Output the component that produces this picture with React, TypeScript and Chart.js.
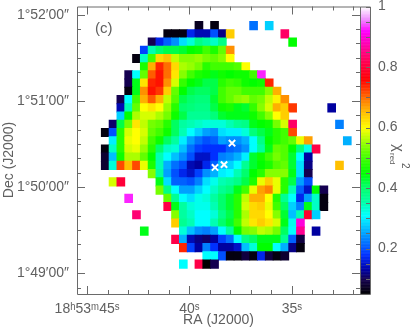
import React, { useEffect, useRef } from "react";
import { Chart, registerables } from "chart.js";

Chart.register(...registerables);

type Segs = Record<number, number[]>;

// chi^2_red per map cell: { first column: values running eastward to westward }
const row00: Segs = { 12: [.07], 14: [.06], 19: [.22], 21: [.28] };
const row01: Segs = { 8: [.06, .06, .06, .17, .14, .14, .2, .12, .64], 23: [.83] };
const row02: Segs = { 6: [.1, .17, .21, .24, .29, .33, .38, .36, .34, .38], 24: [.45] };
const row03: Segs = { 5: [.19, .35, .4, .42, .42, .43, .45, .46, .5, .47, .52, .68] };
const row04: Segs = { 4: [.06, .34, .5, .63, .65, .57, .54, .54, .55, .53, .52, .54, .6] };
const row05: Segs = { 5: [.47, .66, .74, .7, .63, .56, .55, .53, .48, .5, .5, .5, .51, .6] };
const row06: Segs = { 3: [.1, .31, .52, .71, .75, .7, .62, .54, .5, .47, .46, .44, .46, .45, .46, .46, .5, .93] };
const row07: Segs = { 3: [.1, .44, .62, .74, .75, .68, .58, .49, .45, .44, .42, .42, .48, .5, .49, .46, .45, .46, .74] };
const row08: Segs = { 3: [.06, .44, .68, .75, .73, .64, .52, .45, .42, .41, .41, .42, .5, .52, .52, .5, .5, .5, .54, .66] };
const row09: Segs = { 2: [.1, .31, .5, .66, .71, .66, .57, .51, .42, .4, .39, .39, .43, .5, .52, .54, .55, .52, .53, .57, .61, .68] };
const row10: Segs = { 2: [.14, .35, .52, .6, .62, .6, .55, .48, .4, .39, .38, .38, .42, .46, .47, .44, .43, .49, .54, .58, .66, .64, .73], 29: [.13] };
const row11: Segs = { 2: [.28, .45, .56, .58, .58, .56, .53, .46, .42, .37, .37, .37, .39, .43, .44, .44, .44, .46, .5, .54, .6, .64] };
const row12: Segs = { 1: [.11, .42, .53, .62, .57, .53, .52, .48, .41, .36, .35, .34, .33, .33, .33, .35, .37, .38, .44, .45, .46, .53, .58, .83], 30: [.23] };
const row13: Segs = { 0: [.06, .2, .48, .58, .6, .58, .52, .5, .46, .41, .35, .31, .28, .25, .24, .29, .3, .3, .33, .39, .42, .44, .48, .5, .72] };
const row14: Segs = { 1: [.3, .48, .59, .6, .57, .5, .46, .41, .36, .3, .25, .22, .2, .21, .25, .24, .24, .26, .31, .38, .45, .48, .5, .52, .59, .67], 31: [.26] };
const row15: Segs = { 0: [.06, .34, .48, .58, .59, .55, .48, .4, .34, .33, .27, .22, .19, .18, .18, .18, .21, .22, .24, .31, .36, .44, .52, .51, .45, .39, .32, .81] };
const row16: Segs = { 0: [.08, .27, .46, .56, .56, .52, .45, .35, .31, .27, .24, .2, .15, .15, .18, .23, .24, .26, .3, .43, .46, .5, .53, .51, .43, .31, .13] };
const row17: Segs = { 0: [.08, .33, .72, .65, .72, .59, .47, .35, .26, .22, .2, .14, .13, .17, .21, .27, .28, .31, .37, .43, .45, .47, .51, .52, .43, .29, .12], 30: [.65] };
const row18: Segs = { 6: [.54, .36, .25, .2, .17, .15, .19, .24, .26, .3, .31, .35, .4, .45, .48, .54, .54, .54, .44, .29, .1] };
const row19: Segs = { 1: [.58, .8], 7: [.44, .29, .21, .21, .2, .23, .29, .32, .35, .36, .38, .42, .47, .59, .64, .59, .48, .42, .25, .2] };
const row20: Segs = { 7: [.53, .38, .31, .25, .25, .28, .31, .34, .37, .39, .44, .5, .59, .67, .69, .59, .48, .35, .21, .15, .45, .1] };
const row21: Segs = { 3: [.93], 8: [.52, .37, .31, .29, .32, .33, .36, .4, .43, .48, .57, .66, .66, .6, .48, .37, .31, .17, .25, .34, .06] };
const row22: Segs = { 8: [.81, .44, .36, .33, .32, .32, .35, .4, .43, .48, .58, .63, .64, .59, .5, .41, .28, .23, .44, .34, .06] };
const row23: Segs = { 4: [.84], 9: [.54, .36, .34, .31, .31, .33, .38, .42, .48, .56, .63, .63, .6, .54, .43, .27, .35, .79, .28] };
const row24: Segs = { 9: [.64, .37, .35, .31, .31, .35, .4, .43, .5, .57, .62, .64, .62, .58, .44, .32, .9] };
const row25: Segs = { 5: [.44], 10: [.33, .27, .24, .23, .25, .31, .36, .45, .53, .54, .57, .56, .53, .41, .31, .86], 27: [.13] };
const row26: Segs = { 9: [.81, .26, .14, .12, .11, .13, .19, .22, .31, .38, .41, .44, .44, .44, .37, .21, .09] };
const row27: Segs = { 10: [.74, .19, .13, .23, .18, .13, .13, .15, .27, .33, .45, .45, .31, .26, .12, .06] };
const row28: Segs = { 13: [.31, .31, .2, .06, .06, .09, .06, .17, .09, .06, .08] };
const row29: Segs = { 10: [.31], 12: [.81, .05, .1] };

const rows: Segs[] = [
  row00, row01, row02, row03, row04, row05, row06, row07, row08, row09,
  row10, row11, row12, row13, row14, row15, row16, row17, row18, row19,
  row20, row21, row22, row23, row24, row25, row26, row27, row28, row29,
];

// Map grid, in axis units (RA seconds, Dec arcsec past 1d49m)
const firstCellRA = 44.111;
const cellRA = 0.3813;
const firstCellDec = 172.4;
const cellDec = 5.727;

const raMajorTicks = [45, 40, 35];
const raMinorTicks = [44, 43, 42, 41, 39, 38, 37, 36, 34, 33, 32];
const decMajorTicks = [0, 60, 120, 180];
const decMinorTicks = [-10, 10, 20, 30, 40, 50, 70, 80, 90, 100, 110, 130, 140, 150, 160, 170];
const colorbarTicks = [0.2, 0.4, 0.6, 0.8, 1];
const colorbarMinorTicks = [0.1, 0.15, 0.25, 0.3, 0.35, 0.45, 0.5, 0.55, 0.65, 0.7, 0.75, 0.85, 0.9, 0.95];

const raLabels: Record<number, string> = { 45: "18ʰ53ᵐ45ˢ", 40: "40ˢ", 35: "35ˢ" };
const decLabels: Record<number, string> = { 0: "1°49′00″", 60: "1°50′00″", 120: "1°51′00″", 180: "1°52′00″" };

const crossRA = [37.92, 38.75, 38.31];
const crossDec = [90.5, 73.6, 75.6];

const colorStops: [number, number, number, number][] = [
  [0.05, 0, 0, 0],
  [0.1, 20, 0, 80],
  [0.13, 0, 0, 160],
  [0.18, 0, 48, 255],
  [0.22, 0, 112, 255],
  [0.27, 0, 192, 255],
  [0.31, 0, 255, 255],
  [0.36, 0, 255, 160],
  [0.41, 0, 255, 96],
  [0.45, 0, 255, 0],
  [0.5, 64, 255, 0],
  [0.55, 150, 255, 0],
  [0.6, 255, 255, 0],
  [0.65, 255, 192, 0],
  [0.69, 255, 128, 0],
  [0.76, 255, 0, 0],
  [0.85, 255, 0, 128],
  [0.92, 255, 0, 255],
  [0.96, 240, 144, 255],
  [1, 255, 255, 255],
];

function colorOf(v: number): string {
  for (let i = 1; i < colorStops.length; i++) {
    const a = colorStops[i - 1];
    const b = colorStops[i];
    if (v <= b[0]) {
      const t = Math.max(0, (v - a[0]) / (b[0] - a[0]));
      const c = [1, 2, 3].map((j) => Math.round(a[j] + (b[j] - a[j]) * t));
      return `rgb(${c[0]},${c[1]},${c[2]})`;
    }
  }
  return "#fff";
}

const cells: { x: number; y: [number, number] }[] = [];
const cellColors: string[] = [];
rows.forEach((segs, r) => {
  Object.keys(segs).forEach((key) => {
    const start = Number(key);
    segs[start].forEach((v, i) => {
      const dec = firstCellDec - cellDec * r;
      cells.push({ x: firstCellRA - cellRA * (start + i), y: [dec - cellDec / 2 - 0.1, dec + cellDec / 2 + 0.1] });
      cellColors.push(colorOf(v));
    });
  });
});

const INK = "#606060";
const FRAME = "#6a6a6a";
const FONT = '"Liberation Sans", "DejaVu Sans", sans-serif';

const framePlugin = {
  id: "frame",
  afterDatasetsDraw(chart: any) {
    const { ctx, chartArea: a, scales } = chart;
    const cbRight = a.right + 10;
    ctx.save();
    // colour bar
    const cb = scales.cb;
    for (let v = 0.05; v < 1; v += 0.0025) {
      const top = cb.getPixelForValue(v + 0.0025);
      const bottom = cb.getPixelForValue(v);
      ctx.fillStyle = colorOf(v + 0.00125);
      ctx.fillRect(a.right, top, 10, bottom - top + 0.5);
    }
    ctx.strokeStyle = FRAME;
    ctx.lineWidth = 1;
    ctx.beginPath();
    const line = (x0: number, y0: number, x1: number, y1: number) => {
      ctx.moveTo(x0, y0);
      ctx.lineTo(x1, y1);
    };
    const xTick = (v: number, len: number) => {
      const x = Math.round(scales.x.getPixelForValue(v)) + 0.5;
      line(x, a.bottom, x, a.bottom - len);
      line(x, a.top, x, a.top + len);
    };
    const yTick = (v: number, len: number) => {
      const y = Math.round(scales.y.getPixelForValue(v)) + 0.5;
      line(a.left, y, a.left + len, y);
      line(a.right, y, a.right - len, y);
    };
    raMajorTicks.forEach((v) => xTick(v, 8));
    raMinorTicks.forEach((v) => xTick(v, 4));
    decMajorTicks.forEach((v) => yTick(v, 8));
    decMinorTicks.forEach((v) => yTick(v, 4));
    colorbarMinorTicks.concat(colorbarTicks).forEach((v) => {
      const y = Math.round(cb.getPixelForValue(v)) + 0.5;
      line(cbRight, y, cbRight - 4, y);
    });
    ctx.rect(a.left + 0.5, a.top + 0.5, a.right - a.left, a.bottom - a.top);
    ctx.rect(a.right + 0.5, a.top + 0.5, 10, a.bottom - a.top);
    ctx.stroke();

    // annotations and rotated axis titles
    ctx.fillStyle = INK;
    ctx.textBaseline = "middle";
    ctx.textAlign = "left";
    ctx.font = `15px ${FONT}`;
    ctx.fillText("(c)", 95, 29);

    ctx.save();
    ctx.translate(9, 160);
    ctx.rotate(-Math.PI / 2);
    ctx.textAlign = "center";
    ctx.font = `14px ${FONT}`;
    ctx.fillText("Dec (J2000)", 0, 0);
    ctx.restore();

    ctx.save();
    ctx.translate(398, 144);
    ctx.rotate(Math.PI / 2);
    ctx.textBaseline = "alphabetic";
    ctx.textAlign = "left";
    ctx.font = `15px ${FONT}`;
    ctx.fillText("χ", 0, 4);
    ctx.font = `8px ${FONT}`;
    ctx.fillText("red", 9, 8);
    ctx.font = `10px ${FONT}`;
    ctx.fillText("2", 19, -4);
    ctx.restore();

    ctx.restore();
  },
};

const noMargins = (s: any) => {
  s.paddingTop = 0;
  s.paddingBottom = 0;
  s.paddingLeft = 0;
  s.paddingRight = 0;
};

export default function App() {
  const ref = useRef<HTMLCanvasElement>(null);
  useEffect(() => {
    if (!ref.current) return;
    const chart = new Chart(ref.current, {
      type: "bar",
      data: {
        datasets: [
          {
            type: "scatter",
            label: "Positions",
            data: crossRA.map((x, i) => ({ x, y: crossDec[i] })),
            pointStyle: "crossRot",
            pointRadius: 4.5,
            pointBorderColor: "#fff",
            pointBorderWidth: 2,
            showLine: false,
            order: 0,
          } as any,
          {
            type: "bar",
            label: "chi2 red",
            data: cells as any,
            backgroundColor: cellColors,
            barThickness: 8,
            borderWidth: 0,
            order: 1,
          } as any,
        ],
      },
      options: {
        responsive: false,
        animation: false,
        events: [],
        layout: { padding: { top: 5, left: 0, right: 0, bottom: 0 } },
        plugins: { legend: { display: false }, tooltip: { enabled: false } },
        scales: {
          x: {
            type: "linear",
            reverse: true,
            offset: false,
            min: 31.67,
            max: 45.49,
            grid: { display: false, drawTicks: false },
            border: { display: false },
            afterBuildTicks: (s: any) => {
              s.ticks = raMajorTicks.map((value) => ({ value }));
            },
            afterFit: (s: any) => {
              s.height = 33;
              noMargins(s);
            },
            ticks: {
              autoSkip: false,
              maxRotation: 0,
              padding: 7,
              color: INK,
              font: { family: FONT, size: 14 },
              callback: (v: any) => raLabels[v] ?? "",
            },
            title: { display: true, text: "RA (J2000)", color: INK, font: { family: FONT, size: 14 }, padding: { top: 0, bottom: -2 } },
          },
          y: {
            type: "linear",
            min: -14.5,
            max: 185.7,
            grid: { display: false, drawTicks: false },
            border: { display: false },
            afterBuildTicks: (s: any) => {
              s.ticks = decMajorTicks.map((value) => ({ value }));
            },
            afterFit: (s: any) => {
              s.width = 77;
              noMargins(s);
            },
            ticks: {
              autoSkip: false,
              padding: 8,
              color: INK,
              font: { family: FONT, size: 14 },
              callback: (v: any) => decLabels[v] ?? "",
            },
          },
          cb: {
            type: "linear",
            position: "right",
            min: 0.05,
            max: 1,
            grid: { display: false, drawTicks: false },
            border: { display: false },
            afterBuildTicks: (s: any) => {
              s.ticks = colorbarTicks.map((value) => ({ value }));
            },
            afterFit: (s: any) => {
              s.width = 51;
              noMargins(s);
            },
            ticks: {
              autoSkip: false,
              padding: 18,
              color: INK,
              font: { family: FONT, size: 14 },
              callback: (v: any) => String(v),
            },
          },
        },
      } as any,
      plugins: [framePlugin],
    });
    return () => chart.destroy();
  }, []);
  return (
    <div style={{ position: "absolute", left: 0, top: 0, width: 411, height: 327 }}>
      <canvas ref={ref} width={411} height={327} style={{ display: "block" }} />
    </div>
  );
}
